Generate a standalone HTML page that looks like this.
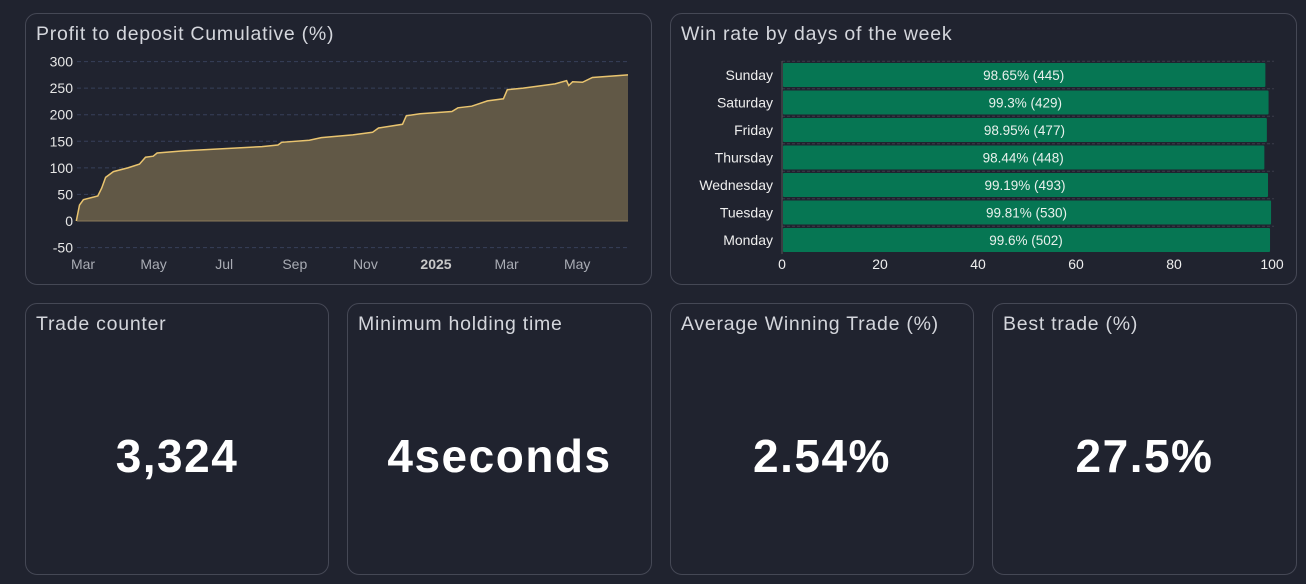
<!DOCTYPE html>
<html><head><meta charset="utf-8"><style>
body{margin:0;width:1306px;height:584px;background:#20232f;font-family:"Liberation Sans",sans-serif;overflow:hidden;position:relative}
.card{position:absolute;border:1px solid #454855;border-radius:12px;box-sizing:border-box;background:#20232f}
.title{position:absolute;left:10px;top:9px;color:#d4d6dc;font-size:19.5px;letter-spacing:0.75px;white-space:nowrap}
.big{position:absolute;left:0;right:0;top:125px;text-align:center;color:#fff;font-size:46px;font-weight:bold;letter-spacing:1.5px}
svg{position:absolute;left:0;top:0}
</style></head><body>
<div class="card" style="left:25px;top:13px;width:627px;height:272px">
<div class="title">Profit to deposit Cumulative (%)</div></div>
<div class="card" style="left:670px;top:13px;width:627px;height:272px">
<div class="title">Win rate by days of the week</div></div>
<div class="card" style="left:25px;top:303px;width:304px;height:272px"><div class="title">Trade counter</div><div class="big">3,324</div></div>
<div class="card" style="left:347px;top:303px;width:305px;height:272px"><div class="title">Minimum holding time</div><div class="big">4seconds</div></div>
<div class="card" style="left:670px;top:303px;width:304px;height:272px"><div class="title">Average Winning Trade (%)</div><div class="big">2.54%</div></div>
<div class="card" style="left:992px;top:303px;width:305px;height:272px"><div class="title">Best trade (%)</div><div class="big">27.5%</div></div>
<svg id="chart" width="1306" height="584"></svg>
<script>
const monthOffsets=[-0.19,-0.10,0.01,0.42,0.53,0.64,0.86,1.27,1.60,1.77,1.99,2.10,2.83,3.95,5.07,5.52,5.63,6.41,6.75,7.64,8.20,8.37,9.05,9.16,9.55,10.45,10.62,11.01,11.46,11.91,12.02,12.47,13.37,13.70,13.76,13.87,14.15,14.43,15.44];
const profitValues=[0,30,40,47,62,82,93,100,107,120,122,128,132,136,140,143,148,152,157,162,167,175,182,198,202,206,213,216,226,230,247,250,258,264,255,262,261,270,275];
const yTicks=[300,250,200,150,100,50,0,-50];
const xTickLabels=["Mar","May","Jul","Sep","Nov","2025","Mar","May"];
const xTickMonths=[0,2,4,6,8,10,12,14];
const days=["Sunday","Saturday","Friday","Thursday","Wednesday","Tuesday","Monday"];
const winRates=[98.65,99.3,98.95,98.44,99.19,99.81,99.6];
const tradeCounts=[445,429,477,448,493,530,502];
const winTicks=[0,20,40,60,80,100];

const svg=document.getElementById('chart');
const NS='http://www.w3.org/2000/svg';
function mk(tag,attrs,txt){const e=document.createElementNS(NS,tag);for(const k in attrs)e.setAttribute(k,attrs[k]);if(txt!==undefined)e.textContent=txt;svg.appendChild(e);return e;}
const px0=77,px1=628;
const X=t=>83+t*35.3;
const Y=v=>221-v*(186/350);
yTicks.forEach(v=>{
 const g=mk('line',{x1:px0,x2:px1,y1:Y(v),y2:Y(v),stroke:'#37405a','stroke-dasharray':'4,3'});
 
 
 const t=mk('text',{x:73,y:Y(v)+5,'text-anchor':'end',fill:'#e6e6e6','font-size':'14'},v);
 
 
});
xTickMonths.forEach((m,i)=>{
 const t=mk('text',{x:X(m),y:269,'text-anchor':'middle',fill:xTickLabels[i]==='2025'?'#c8c8c8':'#a9acb4','font-size':'14','font-weight':xTickLabels[i]==='2025'?'bold':'normal'},xTickLabels[i]);
 
 
});
let d='';monthOffsets.forEach((t,i)=>{d+=(i?'L':'M')+X(t).toFixed(1)+','+Y(profitValues[i]).toFixed(1);});
const area=mk('path',{d:d+'L'+X(monthOffsets[monthOffsets.length-1])+','+Y(0)+'L'+X(monthOffsets[0])+','+Y(0)+'Z',fill:'#615846'});


const base=mk('line',{x1:px0,x2:px1,y1:Y(0),y2:Y(0),stroke:'#8a7a5a','stroke-width':1});


const line=mk('path',{d:d,fill:'none',stroke:'#e9c46f','stroke-width':1.5});


const bx=v=>782+v*4.9;
const rowY=i=>75+i*27.5;
days.forEach((day,i)=>{
 const gl=mk('line',{x1:782,x2:1274,y1:rowY(i)-13.75,y2:rowY(i)-13.75,stroke:'#3a3d4a','stroke-dasharray':'3,2'});
 
 
 const r=mk('rect',{x:bx(0)+1,y:rowY(i)-12,width:bx(winRates[i])-bx(0)-1,height:24,fill:'#067653',rx:1});
 
 
 const l=mk('text',{x:773,y:rowY(i)+5,'text-anchor':'end',fill:'#eee','font-size':'14'},day);
 
 
 const v=mk('text',{x:(bx(0)+bx(winRates[i]))/2,y:rowY(i)+5,'text-anchor':'middle',fill:'#e8f0ec','font-size':'13.5'},winRates[i]+'% ('+tradeCounts[i]+')');
 
 
});
const ax=mk('line',{x1:782,x2:782,y1:61,y2:254,stroke:'#555'});


winTicks.forEach(v=>{
 const t=mk('text',{x:bx(v),y:269,'text-anchor':'middle',fill:'#eee','font-size':'14'},v);
 
 
});
</script>
</body></html>
